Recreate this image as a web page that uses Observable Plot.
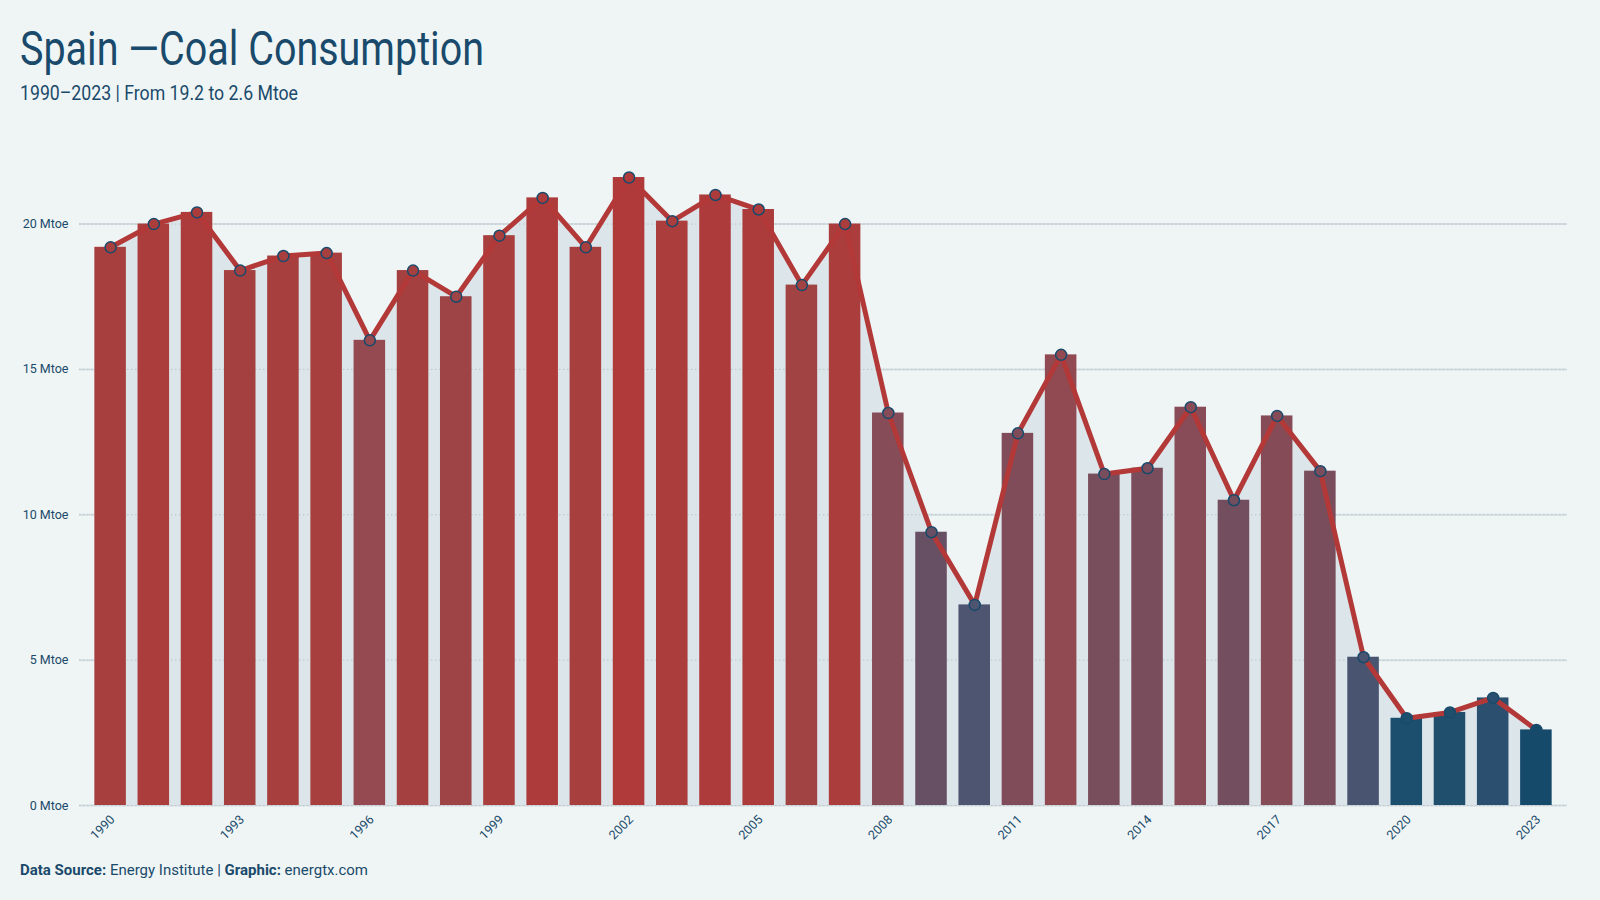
<!DOCTYPE html>
<html><head><meta charset="utf-8">
<script src="https://cdn.jsdelivr.net/npm/d3@7"></script>
<script src="https://cdn.jsdelivr.net/npm/@observablehq/plot@0.6"></script>
<style>
html,body{margin:0;padding:0;background:#eff5f5;width:1600px;height:900px;overflow:hidden;font-family:Roboto,"Open Sans",sans-serif;color:#1a4a6b}
.t{position:absolute;left:20px;white-space:nowrap;transform-origin:0 0;line-height:1}
#title{top:25px;font-size:48px}
#subtitle{top:83px;font-size:20px}
#caption{top:863px;font-size:14px}
#chart{position:absolute;left:0;top:120px}
</style></head>
<body>
<div id="title" class="t">Spain —Coal Consumption</div>
<div id="subtitle" class="t">1990–2023 | From 19.2 to 2.6 Mtoe</div>
<div id="caption" class="t"><b>Data Source:</b> Energy Institute | <b>Graphic:</b> energtx.com</div>
<div id="chart"></div>
<script>
const years = [1990,1991,1992,1993,1994,1995,1996,1997,1998,1999,2000,2001,2002,2003,2004,2005,2006,2007,2008,2009,2010,2011,2012,2013,2014,2015,2016,2017,2018,2019,2020,2021,2022,2023];
const values = [19.2,20.0,20.4,18.4,18.9,19.0,16.0,18.4,17.5,19.6,20.9,19.2,21.6,20.1,21.0,20.5,17.9,20.0,13.5,9.4,6.9,12.8,15.5,11.4,11.6,13.7,10.5,13.4,11.5,5.1,3.0,3.2,3.7,2.6];
const tickYears = [1990,1993,1996,1999,2002,2005,2008,2011,2014,2017,2020,2023];
const yTicks = [0,5,10,15,20];
const colorStops = [2.6,3.0,5.1,6.9,10.5,13.5,16.0,18.4,21.6];
const colorRange = ["#154a6a","#1c4e6e","#485470","#4d5570","#724e5e","#864c58","#944a50","#a54040","#b03a3a"];

const data = years.map((y,i)=>({year:y, value:values[i]}));

const chart = Plot.plot({
  width:1600, height:740,
  marginLeft:79, marginRight:33, marginTop:45.4, marginBottom:55,
  style:{background:"transparent", fontFamily:"Roboto, sans-serif", fontSize:"12px", color:"#1a4a6b"},
  x:{type:"band", domain:years, paddingInner:0.27, paddingOuter:0.355, round:false, label:null},
  y:{domain:[0,22], label:null},
  color:{type:"linear", domain:colorStops, range:colorRange},
  marks:[
    Plot.ruleY(yTicks,{stroke:"#d3dde1", strokeWidth:2}),
    Plot.areaY(data,{x:"year", y:"value", fill:"#dbe5ea"}),
    Plot.ruleY(yTicks,{stroke:"#bcc6ca", strokeWidth:1, strokeDasharray:"1.5,2.5"}),
    Plot.barY(data,{x:"year", y:"value", fill:"value"}),
    Plot.lineY(data,{x:"year", y:"value", stroke:"#b33838", strokeWidth:5}),
    Plot.dot(data,{x:"year", y:"value", fill:"value", stroke:"#1a4a6b", strokeWidth:1.5, r:5.5}),
    Plot.axisY({ticks:yTicks, tickFormat:d=>d+" Mtoe", tickSize:0, tickPadding:11, fill:"#1a4a6b", fontSize:12.5}),
    Plot.axisX({ticks:tickYears, tickFormat:d=>String(d), tickRotate:-45, tickSize:0, tickPadding:12, dx:2, fill:"#1a4a6b", fontSize:12.5, label:null})
  ]
});
document.getElementById("chart").appendChild(chart);

function fit(id, w){
  const el=document.getElementById(id);
  const r=el.getBoundingClientRect();
  el.style.transform=`scaleX(${w/r.width})`;
}
fit("title",464);
fit("subtitle",278);
fit("caption",348);
</script>
</body></html>
